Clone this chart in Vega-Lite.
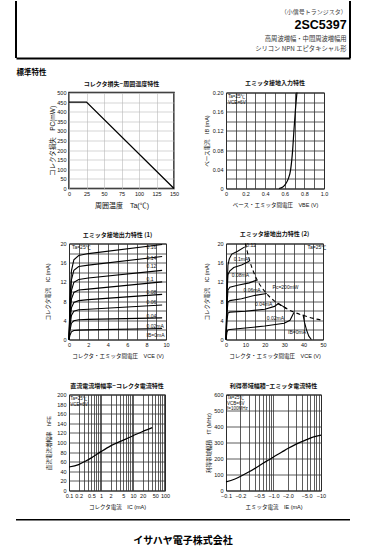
{
  "$schema": "https://vega.github.io/schema/vega-lite/v6.json",
  "background": "white",
  "padding": {"left": 15, "top": 0, "right": 5, "bottom": 5},
  "spacing": 3.5,
  "datasets": {
    "header": [
      {"label": "（小信号トランジスタ）", "kind": "series"},
      {"label": "2SC5397", "kind": "part"},
      {"label": "高周波増幅・中間周波増幅用", "kind": "use"},
      {"label": "シリコン NPN エピタキシャル形", "kind": "type"}
    ],
    "footer": [{"label": "イサハヤ電子株式会社"}],
    "pc": [{"ta": 0, "pc": 450}, {"ta": 25, "pc": 450}, {"ta": 150, "pc": 0}],
    "vbe": [
      {"vbe": 0.54, "ib": 0}, {"vbe": 0.58, "ib": 0.003}, {"vbe": 0.61, "ib": 0.01},
      {"vbe": 0.635, "ib": 0.02}, {"vbe": 0.66, "ib": 0.04}, {"vbe": 0.68, "ib": 0.08},
      {"vbe": 0.693, "ib": 0.12}, {"vbe": 0.707, "ib": 0.16}, {"vbe": 0.724, "ib": 0.2}
    ],
    "notes2": [
      {"t": "Ta=25℃", "vbe": 0.02, "ib": 0.19},
      {"t": "VCE=6V", "vbe": 0.02, "ib": 0.178}
    ],
    "out1": [
      {"ib": "0.16", "vce": 0, "ic": 0}, {"ib": "0.16", "vce": 0.1, "ic": 8.06}, {"ib": "0.16", "vce": 0.25, "ic": 14.3}, {"ib": "0.16", "vce": 0.5, "ic": 16.6}, {"ib": "0.16", "vce": 1, "ic": 17.5}, {"ib": "0.16", "vce": 2, "ic": 17.9}, {"ib": "0.16", "vce": 9.6, "ic": 19.8},
      {"ib": "0.14", "vce": 0, "ic": 0}, {"ib": "0.14", "vce": 0.1, "ic": 6.98}, {"ib": "0.14", "vce": 0.25, "ic": 12.4}, {"ib": "0.14", "vce": 0.5, "ic": 14.4}, {"ib": "0.14", "vce": 1, "ic": 15.2}, {"ib": "0.14", "vce": 2, "ic": 15.5}, {"ib": "0.14", "vce": 9.6, "ic": 17.3},
      {"ib": "0.12", "vce": 0, "ic": 0}, {"ib": "0.12", "vce": 0.1, "ic": 5.76}, {"ib": "0.12", "vce": 0.25, "ic": 10.2}, {"ib": "0.12", "vce": 0.5, "ic": 11.9}, {"ib": "0.12", "vce": 1, "ic": 12.5}, {"ib": "0.12", "vce": 2, "ic": 12.8}, {"ib": "0.12", "vce": 9.6, "ic": 14.4},
      {"ib": "0.10", "vce": 0, "ic": 0}, {"ib": "0.10", "vce": 0.1, "ic": 4.7}, {"ib": "0.10", "vce": 0.25, "ic": 8.4}, {"ib": "0.10", "vce": 0.5, "ic": 9.8}, {"ib": "0.10", "vce": 1, "ic": 10.3}, {"ib": "0.10", "vce": 2, "ic": 10.5}, {"ib": "0.10", "vce": 9.6, "ic": 12.0},
      {"ib": "0.08", "vce": 0, "ic": 0}, {"ib": "0.08", "vce": 0.1, "ic": 3.7}, {"ib": "0.08", "vce": 0.25, "ic": 6.6}, {"ib": "0.08", "vce": 0.5, "ic": 7.7}, {"ib": "0.08", "vce": 1, "ic": 8.1}, {"ib": "0.08", "vce": 2, "ic": 8.3}, {"ib": "0.08", "vce": 9.6, "ic": 9.4},
      {"ib": "0.06", "vce": 0, "ic": 0}, {"ib": "0.06", "vce": 0.1, "ic": 2.8}, {"ib": "0.06", "vce": 0.25, "ic": 5.0}, {"ib": "0.06", "vce": 0.5, "ic": 5.9}, {"ib": "0.06", "vce": 1, "ic": 6.2}, {"ib": "0.06", "vce": 2, "ic": 6.3}, {"ib": "0.06", "vce": 9.6, "ic": 7.2},
      {"ib": "0.04", "vce": 0, "ic": 0}, {"ib": "0.04", "vce": 0.1, "ic": 1.9}, {"ib": "0.04", "vce": 0.25, "ic": 3.4}, {"ib": "0.04", "vce": 0.5, "ic": 3.9}, {"ib": "0.04", "vce": 1, "ic": 4.1}, {"ib": "0.04", "vce": 2, "ic": 4.2}, {"ib": "0.04", "vce": 9.6, "ic": 4.5},
      {"ib": "0.02", "vce": 0, "ic": 0}, {"ib": "0.02", "vce": 0.1, "ic": 0.9}, {"ib": "0.02", "vce": 0.25, "ic": 1.6}, {"ib": "0.02", "vce": 0.5, "ic": 1.86}, {"ib": "0.02", "vce": 1, "ic": 1.96}, {"ib": "0.02", "vce": 2, "ic": 2.0}, {"ib": "0.02", "vce": 9.6, "ic": 2.3}
    ],
    "out1lab": [
      {"t": "0.16", "vce": 8.0, "ic": 19.2}, {"t": "0.14", "vce": 8.0, "ic": 17.0},
      {"t": "0.12", "vce": 8.0, "ic": 15.4}, {"t": "0.1", "vce": 8.0, "ic": 12.6},
      {"t": "0.08", "vce": 8.0, "ic": 10.0}, {"t": "0.06", "vce": 8.0, "ic": 7.8},
      {"t": "0.04", "vce": 8.0, "ic": 4.9}, {"t": "0.02mA", "vce": 8.0, "ic": 2.9},
      {"t": "IB=0mA", "vce": 8.0, "ic": 0.9}, {"t": "Ta=25℃", "vce": 0.3, "ic": 19.2}
    ],
    "out2": [
      {"ib": "0.12", "vce": 0, "ic": 0}, {"ib": "0.12", "vce": 0.5, "ic": 10}, {"ib": "0.12", "vce": 1, "ic": 15.5}, {"ib": "0.12", "vce": 1.7, "ic": 16.8}, {"ib": "0.12", "vce": 3, "ic": 17.8}, {"ib": "0.12", "vce": 6, "ic": 18.4}, {"ib": "0.12", "vce": 9.7, "ic": 19.3},
      {"ib": "0.10", "vce": 0, "ic": 0}, {"ib": "0.10", "vce": 0.5, "ic": 9}, {"ib": "0.10", "vce": 1, "ic": 13.5}, {"ib": "0.10", "vce": 2, "ic": 14.3}, {"ib": "0.10", "vce": 4, "ic": 15.0}, {"ib": "0.10", "vce": 8, "ic": 15.5}, {"ib": "0.10", "vce": 12, "ic": 16.3},
      {"ib": "0.08", "vce": 0, "ic": 0}, {"ib": "0.08", "vce": 0.5, "ic": 7}, {"ib": "0.08", "vce": 1, "ic": 10.3}, {"ib": "0.08", "vce": 2, "ic": 10.9}, {"ib": "0.08", "vce": 6, "ic": 11.3}, {"ib": "0.08", "vce": 12, "ic": 11.8}, {"ib": "0.08", "vce": 16, "ic": 12.4},
      {"ib": "0.06", "vce": 0, "ic": 0}, {"ib": "0.06", "vce": 0.5, "ic": 5.5}, {"ib": "0.06", "vce": 1, "ic": 7.8}, {"ib": "0.06", "vce": 2, "ic": 8.1}, {"ib": "0.06", "vce": 8, "ic": 8.5}, {"ib": "0.06", "vce": 15, "ic": 9.2}, {"ib": "0.06", "vce": 21, "ic": 9.6},
      {"ib": "0.04", "vce": 0, "ic": 0}, {"ib": "0.04", "vce": 0.5, "ic": 4}, {"ib": "0.04", "vce": 1, "ic": 5.5}, {"ib": "0.04", "vce": 2, "ic": 5.7}, {"ib": "0.04", "vce": 10, "ic": 5.9}, {"ib": "0.04", "vce": 20, "ic": 6.3}, {"ib": "0.04", "vce": 25, "ic": 6.9}, {"ib": "0.04", "vce": 27, "ic": 7.5}, {"ib": "0.04", "vce": 29, "ic": 7.0}, {"ib": "0.04", "vce": 31, "ic": 6.5},
      {"ib": "0.02", "vce": 0, "ic": 0}, {"ib": "0.02", "vce": 0.5, "ic": 1.5}, {"ib": "0.02", "vce": 1, "ic": 2.0}, {"ib": "0.02", "vce": 2, "ic": 2.1}, {"ib": "0.02", "vce": 10, "ic": 2.4}, {"ib": "0.02", "vce": 20, "ic": 2.8}, {"ib": "0.02", "vce": 30, "ic": 3.4}, {"ib": "0.02", "vce": 33, "ic": 4.0}, {"ib": "0.02", "vce": 35, "ic": 5.6},
      {"ib": "0", "vce": 39.7, "ic": 5.2}, {"ib": "0", "vce": 40.5, "ic": 3.5}, {"ib": "0", "vce": 41.5, "ic": 2.0}, {"ib": "0", "vce": 42.7, "ic": 0.7}, {"ib": "0", "vce": 44, "ic": 0}
    ],
    "pcmax": [
      {"vce": 10, "ic": 20}, {"vce": 12, "ic": 16.7}, {"vce": 15, "ic": 13.3}, {"vce": 20, "ic": 10},
      {"vce": 25, "ic": 8}, {"vce": 30, "ic": 6.7}, {"vce": 35, "ic": 5.7}, {"vce": 40, "ic": 5},
      {"vce": 45, "ic": 4.4}, {"vce": 50, "ic": 4}
    ],
    "out2lab": [
      {"t": "0.12", "vce": 10.5, "ic": 19.6}, {"t": "0.1mA", "vce": 4, "ic": 16.7},
      {"t": "0.08mA", "vce": 3, "ic": 13.4}, {"t": "0.06mA", "vce": 9, "ic": 10.4},
      {"t": "0.04mA", "vce": 15, "ic": 7.5}, {"t": "0.02mA", "vce": 21, "ic": 4.4},
      {"t": "IB=0mA", "vce": 32, "ic": 1.6}, {"t": "Pc=200mW", "vce": 24, "ic": 11},
      {"t": "Ta=25℃", "vce": 42, "ic": 19.3}
    ],
    "hfe": [
      {"ic": 0.1, "hfe": 49}, {"ic": 0.2, "hfe": 54}, {"ic": 0.3, "hfe": 60}, {"ic": 0.5, "hfe": 68},
      {"ic": 1, "hfe": 81}, {"ic": 2, "hfe": 93}, {"ic": 5, "hfe": 105}, {"ic": 10, "hfe": 114},
      {"ic": 20, "hfe": 123}, {"ic": 40, "hfe": 131}
    ],
    "notes5": [
      {"t": "Ta=25℃", "ic": 0.11, "hfe": 191},
      {"t": "VCE=6V", "ic": 0.11, "hfe": 179}
    ],
    "ft": [
      {"ie": 0.1, "ft": 54}, {"ie": 0.15, "ft": 70}, {"ie": 0.2, "ft": 88}, {"ie": 0.3, "ft": 115},
      {"ie": 0.5, "ft": 155}, {"ie": 0.7, "ft": 182}, {"ie": 1, "ft": 210}, {"ie": 1.5, "ft": 240},
      {"ie": 2, "ft": 262}, {"ie": 3, "ft": 290}, {"ie": 5, "ft": 318}, {"ie": 7, "ft": 335}, {"ie": 10, "ft": 346}
    ],
    "notes6": [
      {"t": "Ta=25℃", "ie": 0.105, "ft": 577},
      {"t": "VCB=6V", "ie": 0.105, "ft": 543},
      {"t": "f=100MHz", "ie": 0.105, "ft": 509}
    ]
  },
  "vconcat": [
    {
      "width": 334,
      "height": 57,
      "view": {"stroke": null},
      "layer": [
        {
          "data": {"name": "header"},
          "transform": [{"filter": "datum.kind == 'series'"}],
          "mark": {"type": "text", "align": "right", "baseline": "middle", "fontSize": 6, "color": "#444", "font": "Noto Sans CJK JP"},
          "encoding": {
            "text": {"field": "label"},
            "x": {"datum": 0.99, "type": "quantitative", "scale": {"domain": [0, 1]},
              "axis": {"orient": "bottom", "domain": true, "domainColor": "black", "domainWidth": 2, "ticks": false, "labels": false, "grid": false,
                "title": "標準特性", "titleAnchor": "start", "titleAlign": "left", "titleFontSize": 7.5, "titleFontWeight": "bold", "titlePadding": 10, "titleFont": "Noto Sans CJK JP", "titleColor": "black"}},
            "y": {"datum": 12, "type": "quantitative", "scale": {"domain": [0, 57], "reverse": true}, "axis": null}
          }
        },
        {
          "data": {"name": "header"},
          "transform": [{"filter": "datum.kind == 'part'"}],
          "mark": {"type": "text", "align": "right", "baseline": "middle", "fontSize": 12.5, "fontWeight": "bold", "color": "black", "font": "Liberation Sans"},
          "encoding": {
            "text": {"field": "label"},
            "x": {"datum": 0.99, "type": "quantitative"},
            "y": {"datum": 25, "type": "quantitative"}
          }
        },
        {
          "data": {"name": "header"},
          "transform": [{"filter": "datum.kind == 'use'"}],
          "mark": {"type": "text", "align": "right", "baseline": "middle", "fontSize": 6.3, "color": "#333", "font": "Noto Sans CJK JP"},
          "encoding": {
            "text": {"field": "label"},
            "x": {"datum": 0.99, "type": "quantitative"},
            "y": {"datum": 40, "type": "quantitative"}
          }
        },
        {
          "data": {"name": "header"},
          "transform": [{"filter": "datum.kind == 'type'"}],
          "mark": {"type": "text", "align": "right", "baseline": "middle", "fontSize": 6.3, "color": "#333", "font": "Noto Sans CJK JP"},
          "encoding": {
            "text": {"field": "label"},
            "x": {"datum": 0.99, "type": "quantitative"},
            "y": {"datum": 50, "type": "quantitative"}
          }
        },
        {
          "data": {"values": [{}]},
          "mark": {"type": "rule", "strokeWidth": 2, "color": "black"},
          "encoding": {"x": {"datum": 0, "type": "quantitative"}}
        },
        {
          "data": {"values": [{}]},
          "mark": {"type": "rule", "strokeWidth": 2, "color": "black"},
          "encoding": {"x": {"datum": 1, "type": "quantitative"}}
        }
      ]
    },
    {
      "columns": 3,
      "bounds": "flush",
      "spacing": {"row": 55, "column": 52},
      "concat": [
        {"width": 1, "height": 1, "view": {"stroke": null}, "data": {"values": []}, "mark": "point"},
        {
          "width": 105,
          "height": 96,
          "title": "コレクタ損失−周囲温度特性",
          "view": {"stroke": "#111", "strokeWidth": 1.5},
          "data": {"name": "pc"},
          "mark": {"type": "line", "color": "black", "strokeWidth": 1.3},
          "encoding": {
            "x": {"field": "ta", "type": "quantitative", "scale": {"domain": [0, 150], "nice": false},
              "axis": {"values": [0, 25, 50, 75, 100, 125, 150], "title": "周囲温度　Ta(℃)", "titleFontSize": 7, "titlePadding": 4.5, "gridColor": "#bbb", "gridWidth": 0.6}},
            "y": {"field": "pc", "type": "quantitative", "scale": {"domain": [0, 500], "nice": false},
              "axis": {"values": [0, 50, 100, 150, 200, 250, 300, 350, 400, 450, 500], "title": "コレクタ損失　PC(mW)", "titleFontSize": 6.5, "titlePadding": 1.5, "gridColor": "#bbb", "gridWidth": 0.6}}
          }
        },
        {
          "width": 98,
          "height": 96,
          "title": "エミッタ接地入力特性",
          "encoding": {
            "x": {"field": "vbe", "type": "quantitative", "scale": {"domain": [0, 1], "nice": false},
              "axis": {"values": [0, 0.1, 0.2, 0.3, 0.4, 0.5, 0.6, 0.7, 0.8, 0.9, 1.0],
                "labelExpr": "round(datum.value*10) % 2 == 0 ? (datum.value == 0 ? '0' : format(datum.value, '.1f')) : ''",
                "title": "ベース・エミッタ間電圧　VBE (V)", "titlePadding": 5}},
            "y": {"field": "ib", "type": "quantitative", "scale": {"domain": [0, 0.2], "nice": false},
              "axis": {"values": [0, 0.02, 0.04, 0.06, 0.08, 0.1, 0.12, 0.14, 0.16, 0.18, 0.2],
                "labelExpr": "round(datum.value*100) % 4 == 0 ? (datum.value == 0 ? '0' : format(datum.value, '.2f')) : ''",
                "title": "ベース電流　IB (mA)", "titlePadding": 3}}
          },
          "layer": [
            {
              "data": {"name": "vbe"},
              "mark": {"type": "line", "interpolate": "monotone", "color": "black", "strokeWidth": 1.2}
            },
            {
              "data": {"name": "notes2"},
              "mark": {"type": "text", "align": "left", "baseline": "middle", "fontSize": 4.6},
              "encoding": {"text": {"field": "t"}}
            }
          ]
        },
        {"width": 1, "height": 1, "view": {"stroke": null}, "data": {"values": []}, "mark": "point"},
        {
          "width": 97,
          "height": 96,
          "title": "エミッタ接地出力特性 (1)",
          "encoding": {
            "x": {"field": "vce", "type": "quantitative", "scale": {"domain": [0, 10], "nice": false},
              "axis": {"values": [0, 1, 2, 3, 4, 5, 6, 7, 8, 9, 10], "labelExpr": "datum.value % 2 == 0 ? datum.label : ''",
                "title": "コレクタ・エミッタ間電圧　VCE (V)", "titlePadding": 5}},
            "y": {"field": "ic", "type": "quantitative", "scale": {"domain": [0, 20], "nice": false},
              "axis": {"values": [0, 2, 4, 6, 8, 10, 12, 14, 16, 18, 20], "labelExpr": "datum.value % 4 == 0 ? datum.label : ''",
                "title": "コレクタ電流　IC (mA)", "titlePadding": 9}}
          },
          "layer": [
            {
              "data": {"name": "out1"},
              "mark": {"type": "line", "color": "black", "strokeWidth": 1.1},
              "encoding": {"detail": {"field": "ib"}}
            },
            {
              "data": {"name": "out1lab"},
              "mark": {"type": "text", "align": "left", "baseline": "middle", "fontSize": 5},
              "encoding": {"text": {"field": "t"}}
            }
          ]
        },
        {
          "width": 97,
          "height": 96,
          "title": "エミッタ接地出力特性 (2)",
          "encoding": {
            "x": {"field": "vce", "type": "quantitative", "scale": {"domain": [0, 50], "nice": false},
              "axis": {"values": [0, 5, 10, 15, 20, 25, 30, 35, 40, 45, 50], "labelExpr": "datum.value % 10 == 0 ? datum.label : ''",
                "title": "コレクタ・エミッタ間電圧　VCE (V)", "titlePadding": 5}},
            "y": {"field": "ic", "type": "quantitative", "scale": {"domain": [0, 20], "nice": false},
              "axis": {"values": [0, 2, 4, 6, 8, 10, 12, 14, 16, 18, 20], "labelExpr": "datum.value % 4 == 0 ? datum.label : ''",
                "title": "コレクタ電流　IC (mA)", "titlePadding": 7}}
          },
          "layer": [
            {
              "data": {"name": "out2"},
              "mark": {"type": "line", "color": "black", "strokeWidth": 1.1},
              "encoding": {"detail": {"field": "ib"}}
            },
            {
              "data": {"name": "pcmax"},
              "mark": {"type": "line", "color": "black", "strokeWidth": 1.1, "strokeDash": [4, 3], "interpolate": "monotone"}
            },
            {
              "data": {"name": "out2lab"},
              "mark": {"type": "text", "align": "left", "baseline": "middle", "fontSize": 5},
              "encoding": {"text": {"field": "t"}}
            }
          ]
        },
        {"width": 1, "height": 1, "view": {"stroke": null}, "data": {"values": []}, "mark": "point"},
        {
          "width": 96,
          "height": 96,
          "title": "直流電流増幅率−コレクタ電流特性",
          "encoding": {
            "x": {"field": "ic", "type": "quantitative", "scale": {"type": "log", "domain": [0.1, 100], "nice": false},
              "axis": {"values": [0.1, 0.2, 0.3, 0.4, 0.5, 0.6, 0.7, 0.8, 0.9, 1, 2, 3, 4, 5, 6, 7, 8, 9, 10, 20, 30, 40, 50, 60, 70, 80, 90, 100],
                "labelExpr": "indexof([0.1, 0.2, 0.5, 1, 2, 5, 10, 20, 50, 100], datum.value) >= 0 ? format(datum.value, '~g') : ''",
                "title": "コレクタ電流　IC (mA)", "titlePadding": 5}},
            "y": {"field": "hfe", "type": "quantitative", "scale": {"domain": [0, 200], "nice": false},
              "axis": {"values": [0, 20, 40, 60, 80, 100, 120, 140, 160, 180, 200],
                "title": "直流電流増幅率　hFE", "titlePadding": 5}}
          },
          "layer": [
            {
              "data": {"name": "hfe"},
              "mark": {"type": "line", "interpolate": "monotone", "color": "black", "strokeWidth": 1.2}
            },
            {
              "data": {"name": "notes5"},
              "mark": {"type": "text", "align": "left", "baseline": "middle", "fontSize": 4.5},
              "encoding": {"text": {"field": "t"}}
            }
          ]
        },
        {
          "width": 95,
          "height": 96,
          "title": "利得帯域幅積−エミッタ電流特性",
          "encoding": {
            "x": {"field": "ie", "type": "quantitative", "scale": {"type": "log", "domain": [0.1, 10], "nice": false},
              "axis": {"values": [0.1, 0.2, 0.3, 0.4, 0.5, 0.6, 0.7, 0.8, 0.9, 1, 2, 3, 4, 5, 6, 7, 8, 9, 10],
                "labelExpr": "indexof([0.1, 0.2, 0.5, 1, 2, 5], datum.value) >= 0 ? '−' + format(datum.value, '.1f') : (datum.value == 10 ? '−10' : '')",
                "title": "エミッタ電流　IE (mA)", "titlePadding": 5}},
            "y": {"field": "ft", "type": "quantitative", "scale": {"domain": [0, 600], "nice": false},
              "axis": {"values": [0, 100, 200, 300, 400, 500, 600],
                "title": "利得帯域幅積　fT (MHz)", "titlePadding": 2}}
          },
          "layer": [
            {
              "data": {"name": "ft"},
              "mark": {"type": "line", "interpolate": "monotone", "color": "black", "strokeWidth": 1.2}
            },
            {
              "data": {"name": "notes6"},
              "mark": {"type": "text", "align": "left", "baseline": "middle", "fontSize": 4.5},
              "encoding": {"text": {"field": "t"}}
            }
          ]
        }
      ]
    },
    {
      "width": 334,
      "height": 36,
      "view": {"stroke": null},
      "layer": [
        {
          "data": {"values": [{}]},
          "mark": {"type": "rule", "strokeWidth": 1.5, "color": "black"},
          "encoding": {"y": {"datum": 6.5, "type": "quantitative", "scale": {"domain": [0, 36], "reverse": true}, "axis": null}}
        },
        {
          "data": {"name": "footer"},
          "mark": {"type": "text", "fontSize": 10, "fontWeight": "bold", "font": "Noto Sans CJK JP", "baseline": "middle", "align": "center", "color": "black"},
          "encoding": {
            "text": {"field": "label"},
            "x": {"datum": 0.5, "type": "quantitative", "scale": {"domain": [0, 1]}, "axis": null},
            "y": {"datum": 29.5, "type": "quantitative"}
          }
        }
      ]
    }
  ],
  "config": {
    "font": "Liberation Sans, Noto Sans CJK JP",
    "view": {"stroke": "#111", "strokeWidth": 1},
    "axis": {
      "ticks": false, "domain": false,
      "labelFontSize": 5.5, "labelColor": "#111", "labelPadding": 3, "labelFlush": false, "labelOverlap": false,
      "titleFontSize": 5.5, "titleFontWeight": "normal", "titleColor": "#111",
      "gridColor": "#333", "gridWidth": 0.8, "gridOpacity": 1
    },
    "title": {"fontSize": 6, "fontWeight": "bold", "color": "#111", "offset": 4, "font": "Noto Sans CJK JP"},
    "text": {"color": "#111"}
  }
}
